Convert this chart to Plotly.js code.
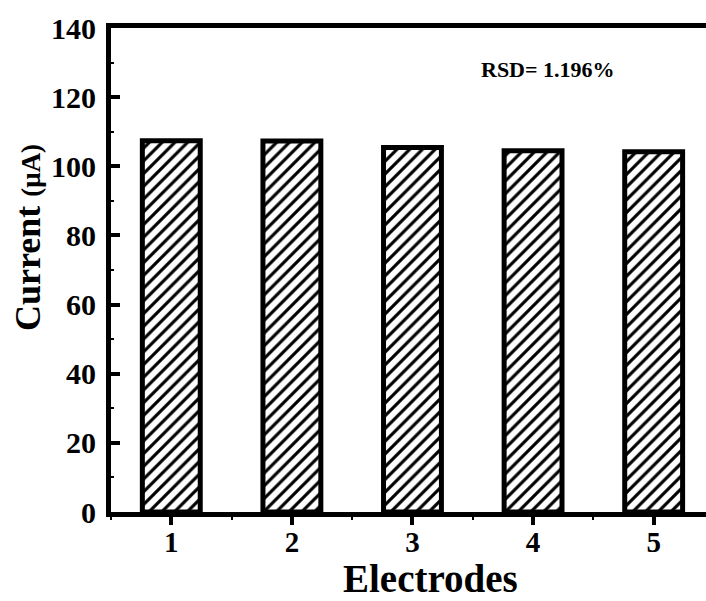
<!DOCTYPE html>
<html>
<head>
<meta charset="utf-8">
<script src="https://cdn.plot.ly/plotly-3.0.1.min.js"></script>
<style>html,body{margin:0;padding:0;background:#fff;}#chart{width:706px;height:601px;}</style>
</head>
<body>
<div id="chart"></div>
<script>
const electrodes = [1, 2, 3, 4, 5];
const tickLabels = ['1', '2', '3', '4', '5'];
const currents = [107.4, 107.3, 105.4, 104.5, 104.2];
const rsdText = 'RSD= 1.196%';
const yTicks = [0, 20, 40, 60, 80, 100, 120, 140];
const xTitle = 'Electrodes';
const yTitleMain = 'Current';
const yTitleUnit = '(μA)';

const FONT = 'Liberation Serif, Times New Roman, serif';

const trace = {
  type: 'bar',
  x: electrodes,
  y: currents,
  width: 0.48,
  marker: {
    color: '#ffffff',
    line: {color: '#000000', width: 5},
    pattern: {shape: '/', fgcolor: '#000000', bgcolor: '#ffffff', size: 9, solidity: 0.35}
  },
  hoverinfo: 'skip'
};

const layout = {
  width: 706,
  height: 601,
  margin: {l: 111, r: 0, t: 28, b: 89},
  paper_bgcolor: '#ffffff',
  plot_bgcolor: '#ffffff',
  showlegend: false,
  font: {family: FONT, color: '#000', size: 24},
  xaxis: {
    range: [0.5, 5.434],
    tickvals: electrodes,
    ticktext: tickLabels.map(t => '<b>' + t + '</b>'),
    ticks: 'outside',
    ticklen: 8,
    tickwidth: 4,
    tickcolor: '#000',
    showline: true,
    linewidth: 5,
    linecolor: '#000',
    mirror: true,
    showgrid: false,
    zeroline: false,
    ticklabelstandoff: -8,
    tickfont: {family: FONT, size: 29, color: '#000'},
    minor: {dtick: 0.5, tick0: 0.5, ticks: 'outside', ticklen: 3, tickwidth: 2, tickcolor: '#000'}
  },
  yaxis: {
    range: [0, 140],
    tickvals: yTicks,
    ticktext: yTicks.map(t => '<b>' + t + '</b>'),
    ticks: 'inside',
    ticklen: 9,
    tickwidth: 4,
    tickcolor: '#000',
    showline: true,
    linewidth: 5,
    linecolor: '#000',
    showgrid: false,
    zeroline: false,
    ticklabelstandoff: 4,
    tickfont: {family: FONT, size: 30, color: '#000'},
    minor: {dtick: 10, ticks: 'inside', ticklen: 3, tickwidth: 2, tickcolor: '#000'}
  },
  annotations: [
    {
      x: 4.12, y: 128.1, xref: 'x', yref: 'y',
      text: '<b>' + rsdText + '</b>',
      showarrow: false,
      font: {family: FONT, size: 22, color: '#000'},
      xanchor: 'center', yanchor: 'middle'
    },
    {
      x: (430 - 111) / 595, y: (512 - 601) / 484, xref: 'paper', yref: 'paper',
      text: '<b>' + xTitle + '</b>',
      showarrow: false,
      font: {family: FONT, size: 39, color: '#000'},
      xanchor: 'center', yanchor: 'bottom', borderpad: 0
    },
    {
      x: (28 - 111) / 595, y: (512 - 238) / 484, xref: 'paper', yref: 'paper',
      text: '<b>' + yTitleMain + ' <span style="font-size:27px">' + yTitleUnit + '</span></b>',
      textangle: -90,
      showarrow: false,
      font: {family: FONT, size: 36, color: '#000'},
      xanchor: 'center', yanchor: 'middle'
    }
  ]
};

Plotly.newPlot('chart', [trace], layout, {staticPlot: true, displayModeBar: false});
</script>
</body>
</html>
